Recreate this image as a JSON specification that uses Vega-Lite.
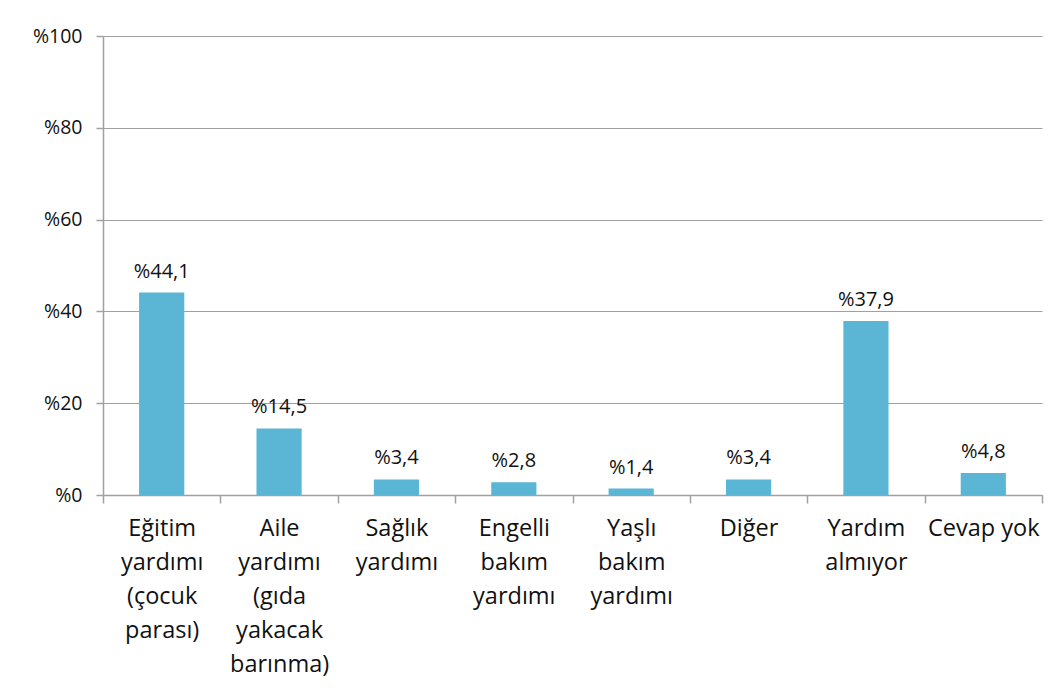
{
  "$schema": "https://vega.github.io/schema/vega-lite/v6.json",
  "width": 939,
  "height": 459,
  "autosize": {"type": "none"},
  "padding": {"left": 103, "top": 36, "right": 13, "bottom": 198},
  "background": "white",
  "config": {
    "view": {"stroke": null},
    "font": "Open Sans",
    "axis": {"labelFont": "Open Sans", "labelColor": "#111111", "domainColor": "#a0a0a0", "tickColor": "#a0a0a0", "gridColor": "#a0a0a0", "domainWidth": 1.5, "tickWidth": 1.5, "gridWidth": 1.2}
  },
  "data": {
    "values": [
      {"kategori": "Eğitim|yardımı|(çocuk|parası)", "oran": 44.1, "etiket": "%44,1"},
      {"kategori": "Aile|yardımı|(gıda|yakacak|barınma)", "oran": 14.5, "etiket": "%14,5"},
      {"kategori": "Sağlık|yardımı", "oran": 3.4, "etiket": "%3,4"},
      {"kategori": "Engelli|bakım|yardımı", "oran": 2.8, "etiket": "%2,8"},
      {"kategori": "Yaşlı|bakım|yardımı", "oran": 1.4, "etiket": "%1,4"},
      {"kategori": "Diğer", "oran": 3.4, "etiket": "%3,4"},
      {"kategori": "Yardım|almıyor", "oran": 37.9, "etiket": "%37,9"},
      {"kategori": "Cevap yok", "oran": 4.8, "etiket": "%4,8"}
    ]
  },
  "encoding": {
    "x": {
      "field": "kategori",
      "type": "nominal",
      "sort": null,
      "scale": {"paddingInner": 0, "paddingOuter": 0},
      "axis": {
        "title": null,
        "labelAngle": 0,
        "labelExpr": "split(datum.label, '|')",
        "labelFontSize": 23.5,
        "labelLineHeight": 34,
        "labelPadding": 13,
        "labelBaseline": "top",
        "tickBand": "extent",
        "tickSize": 8,
        "grid": false,
        "labelLimit": 200
      }
    },
    "y": {
      "field": "oran",
      "type": "quantitative",
      "scale": {"domain": [0, 100], "nice": false},
      "axis": {
        "title": null,
        "values": [0, 20, 40, 60, 80, 100],
        "labelExpr": "'%' + datum.value",
        "labelFontSize": 19.5,
        "tickSize": 7,
        "labelPadding": 14,
        "grid": true
      }
    }
  },
  "layer": [
    {
      "mark": {"type": "bar", "color": "#5bb5d5", "width": {"band": 0.385}}
    },
    {
      "mark": {"type": "text", "baseline": "bottom", "dy": -11, "fontSize": 20, "color": "#111111", "font": "Open Sans"},
      "encoding": {"text": {"field": "etiket"}}
    }
  ]
}
